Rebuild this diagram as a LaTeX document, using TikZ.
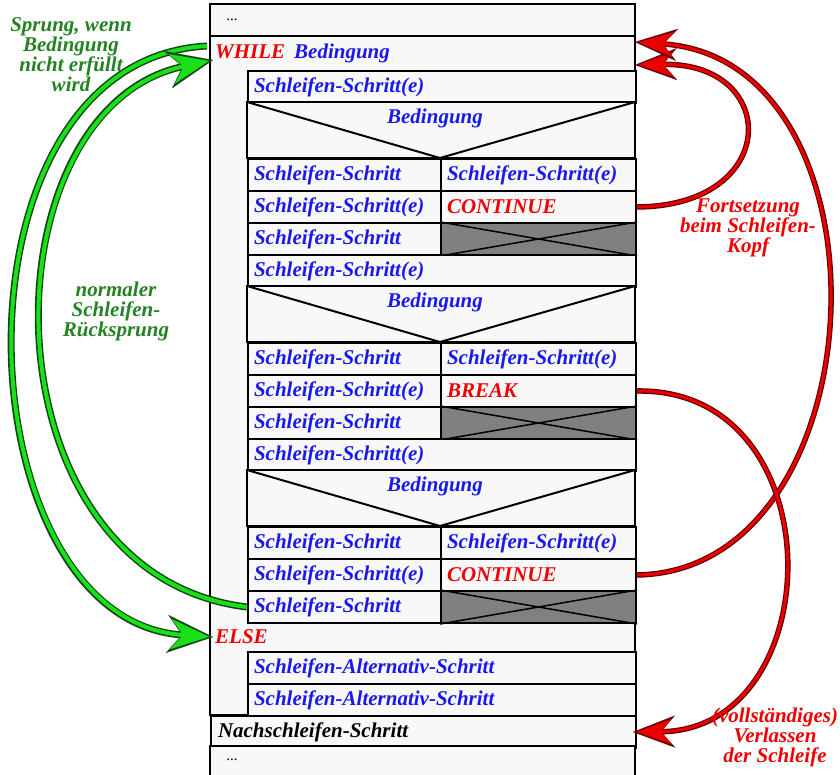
\documentclass[tikz,border=0pt]{standalone}
\usepackage{fontspec}
\setmainfont{Liberation Serif}
\usetikzlibrary{arrows.meta}

\definecolor{stepblue}{RGB}{25,25,235}
\definecolor{kwred}{RGB}{240,0,0}
\definecolor{notegreen}{RGB}{35,130,35}
\definecolor{boxfill}{RGB}{248,248,248}
\definecolor{voidgray}{RGB}{128,128,128}
\definecolor{arcgreen}{RGB}{25,225,25}
\definecolor{arcgreenline}{RGB}{20,70,20}
\definecolor{arcred}{RGB}{235,0,0}
\definecolor{arcredline}{RGB}{100,0,0}

\newcommand{\nsfont}{\fontsize{21}{20}\selectfont\bfseries\itshape}
\newcommand{\dotsfont}{\fontsize{15}{15}\selectfont}

\begin{document}
\begin{tikzpicture} [x = 1pt, y = -1pt,
	cell/.style = {draw, fill = boxfill, line width = 2pt, anchor = north west, minimum height = 32pt, inner xsep = 6pt, inner ysep = 0pt, align = left, text = stepblue, font = \nsfont},
	lcell/.style = {cell, text width = 181pt},
	rcell/.style = {cell, text width = 183pt},
	wcell/.style = {cell, text width = 376pt},
	boxline/.style = {line width = 2pt, fill = boxfill},
	note/.style = {align = center, font = \nsfont},
	gback/.style = {line width = 7pt, arcgreenline, -{Stealth[length = 46pt, width = 38pt, inset = 15pt, line width = 0.1pt]}},
	gfront/.style = {line width = 4pt, arcgreen, shorten >=4pt, -{Stealth[length = 38pt, width = 30pt, inset = 12pt, line width = 0.1pt]}},
	rback/.style = {line width = 5.5pt, arcredline, -{Stealth[length = 42pt, width = 32pt, inset = 14pt, line width = 0.1pt]}},
	rfront/.style = {line width = 3pt, arcred, shorten >=3.5pt, -{Stealth[length = 35pt, width = 25pt, inset = 11pt, line width = 0.1pt]}}]
	\useasboundingbox (0,0) rectangle (840,775);
	% Struktogramm
	\draw [boxline] (210,4) rectangle (635,36);
	\node (dots1) [font = \dotsfont] at (232,20) {...};
	\draw [boxline] (210,36) rectangle (635,715);
	\node (while) [anchor = west, inner sep = 2pt, font = \nsfont, text = stepblue] at (213,53) {\textcolor{kwred}{WHILE}\hspace{9pt}Bedingung};
	\coordinate (head) at (635,53);
	\foreach \y/\kw/\n in {70/CONTINUE/a, 254/BREAK/b, 438/CONTINUE/c} {
		\node (steps\n) [wcell] at (247,\y) {Schleifen-Schritt(e)};
		\draw [boxline] (247,\y+32) rectangle (635,\y+88);
		\draw [line width = 2pt] (247,\y+32) -- (440,\y+88) -- (635,\y+32);
		\node (cond\n) [font = \nsfont, text = stepblue] at (435,\y+48) {Bedingung};
		\node (s1\n) [lcell] at (247,\y+88) {Schleifen-Schritt};
		\node (t1\n) [rcell] at (440,\y+88) {Schleifen-Schritt(e)};
		\node (s2\n) [lcell] at (247,\y+120) {Schleifen-Schritt(e)};
		\node (kw\n) [rcell, text = kwred] at (440,\y+120) {\kw};
		\node (s3\n) [lcell] at (247,\y+152) {Schleifen-Schritt};
		\node (void\n) [rcell, fill = voidgray] at (440,\y+152) {};
		\draw [line width = 1.5pt] (void\n.north west) -- (void\n.south east) (void\n.south west) -- (void\n.north east);
	}
	\node (else) [anchor = west, inner sep = 2pt, font = \nsfont, text = kwred] at (213,637) {ELSE};
	\node (alt1) [wcell] at (247,651) {Schleifen-Alternativ-Schritt};
	\node (alt2) [wcell] at (247,683) {Schleifen-Alternativ-Schritt};
	\node (after) [cell, text width = 411pt, inner xsep = 7pt, text = black] at (210,715) {Nachschleifen-Schritt};
	\draw [boxline] (210,785) -- (210,746) -- (635,746) -- (635,785);
	\node (dots2) [font = \dotsfont] at (232,760) {...};
	% Pfeile
	\draw [gback] ([xshift = -6pt, yshift = 7pt]while.west) .. controls +(-267,14) and +(-253,-17) .. (else.west);
	\draw [gfront] ([xshift = -6pt, yshift = 7pt]while.west) .. controls +(-267,14) and +(-253,-17) .. (else.west);
	\draw [gback] (s3c.west) .. controls +(-267,-32) and +(-232,50) .. ([yshift = -7pt]while.west);
	\draw [gfront] (s3c.west) .. controls +(-267,-32) and +(-232,50) .. ([yshift = -7pt]while.west);
	\draw [rback] (kwa.east) .. controls +(145,-1) and +(145,-3) .. ([yshift = -12pt]head);
	\draw [rfront] (kwa.east) .. controls +(145,-1) and +(145,-3) .. ([yshift = -12pt]head);
	\draw [rback] (kwc.east) .. controls +(245,-4) and +(265,18) .. ([yshift = 11pt]head);
	\draw [rfront] (kwc.east) .. controls +(245,-4) and +(265,18) .. ([yshift = 11pt]head);
	\draw [rback] (kwb.east) .. controls +(200,-3) and +(198,-2) .. ([xshift = -4pt]after.east);
	\draw [rfront] (kwb.east) .. controls +(200,-3) and +(198,-2) .. ([xshift = -4pt]after.east);
	% Beschriftungen
	\node (jumpnote) [note, text = notegreen] at (71,55) {Sprung, wenn\\Bedingung\\nicht erfüllt\\wird};
	\node (backnote) [note, text = notegreen] at (116,311) {normaler\\Schleifen-\\Rücksprung};
	\node (contnote) [note, text = kwred] at (748,228) {Fortsetzung\\beim Schleifen-\\Kopf};
	\node (breaknote) [note, text = kwred] at (775,737) {(vollständiges)\\Verlassen\\der Schleife};
\end{tikzpicture}
\end{document}
